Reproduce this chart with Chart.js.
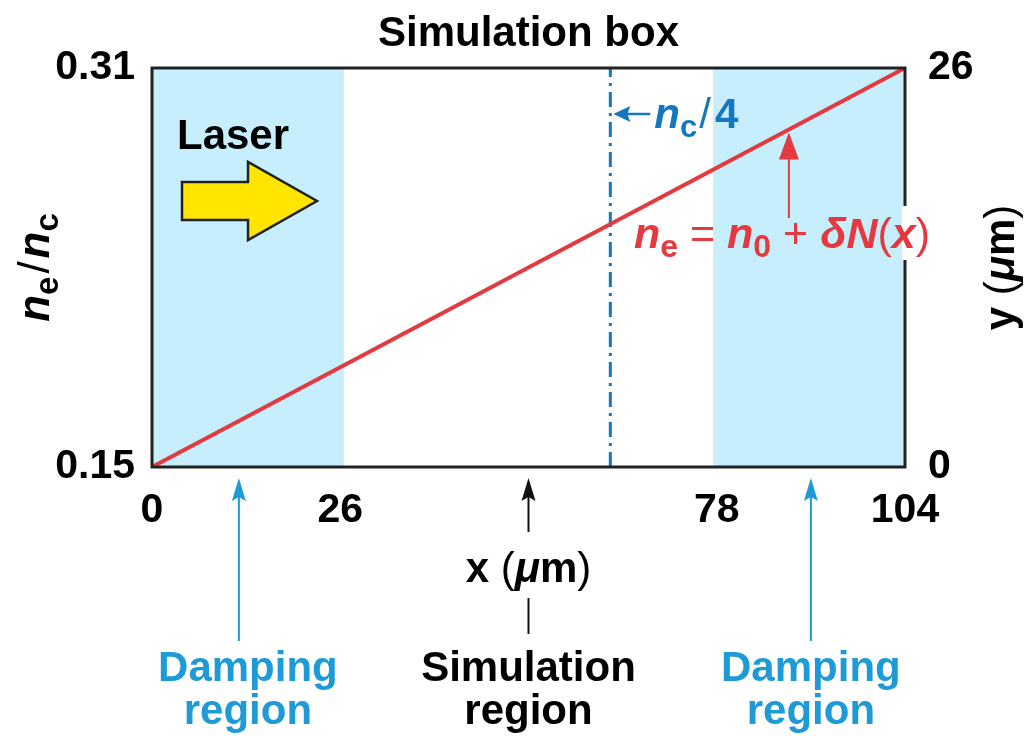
<!DOCTYPE html>
<html>
<head>
<meta charset="utf-8">
<script src="https://cdn.jsdelivr.net/npm/chart.js@4/dist/chart.umd.min.js"></script>
<style>
  html, body { margin: 0; padding: 0; background: #fff; }
  #wrap { width: 1029px; height: 736px; position: relative; }
</style>
</head>
<body>
<div id="wrap"><canvas id="simBox"></canvas></div>
<script>
// datos
const xTicks = [0, 26, 78, 104];
const leftTicks = [0.15, 0.31];
const rightTicks = [0, 26];
const densityX = [0, 104];
const densityY = [0.15, 0.31];
const quarterCritX = [63.3, 63.3];
const quarterCritY = [0.15, 0.31];
const dampingLeft = [0, 26.5];
const dampingRight = [77.5, 104];
const pointerX = [12, 52, 91];

const FONT = '"Liberation Sans", Arial, Helvetica, sans-serif';
const RED = '#e23a3f';
const BLUE = '#1577bd';
const CYAN = '#1e9bd7';
const SHADE = '#c7eefc';

// dibuja texto con varios estilos (cursiva, subindices)
function runsWidth(ctx, runs) {
  let w = 0;
  runs.forEach(r => { ctx.font = r.f; w += ctx.measureText(r.t).width + (r.gap || 0); });
  return w;
}
function drawRuns(ctx, runs, x, y, align) {
  let cx = x;
  const w = runsWidth(ctx, runs);
  if (align === 'center') cx = x - w / 2;
  if (align === 'right') cx = x - w;
  ctx.textBaseline = 'alphabetic';
  ctx.textAlign = 'left';
  runs.forEach(r => {
    ctx.font = r.f;
    ctx.fillText(r.t, cx, y + (r.dy || 0));
    cx += ctx.measureText(r.t).width + (r.gap || 0);
  });
}
const bi = s => `italic bold ${s}px ${FONT}`;
const b = s => `bold ${s}px ${FONT}`;
const n = s => `${s}px ${FONT}`;

function arrowUp(ctx, x, yTip, yTail, color) {
  ctx.strokeStyle = color; ctx.fillStyle = color; ctx.lineWidth = 2;
  ctx.beginPath(); ctx.moveTo(x, yTail); ctx.lineTo(x, yTip + 18); ctx.stroke();
  ctx.beginPath(); ctx.moveTo(x, yTip); ctx.lineTo(x - 7, yTip + 23); ctx.lineTo(x, yTip + 19);
  ctx.lineTo(x + 7, yTip + 23); ctx.closePath(); ctx.fill();
}

const shadePlugin = {
  id: 'shade',
  beforeDatasetsDraw(chart) {
    const { ctx, chartArea: a, scales: { x } } = chart;
    ctx.save();
    ctx.fillStyle = SHADE;
    [dampingLeft, dampingRight].forEach(r => {
      const x0 = x.getPixelForValue(r[0]), x1 = x.getPixelForValue(r[1]);
      ctx.fillRect(x0, a.top, x1 - x0, a.bottom - a.top);
    });
    ctx.restore();
  }
};

const notesPlugin = {
  id: 'notes',
  afterDraw(chart) {
    const { ctx, chartArea: a, scales: { x, y } } = chart;
    ctx.save();

    // marco
    ctx.strokeStyle = '#222'; ctx.lineWidth = 3;
    ctx.strokeRect(a.left, a.top, a.right - a.left, a.bottom - a.top);

    // titulo
    ctx.fillStyle = '#000';
    drawRuns(ctx, [{ t: 'Simulation box', f: b(42) }], (a.left + a.right) / 2, 46, 'center');

    // Laser + flecha amarilla
    drawRuns(ctx, [{ t: 'Laser', f: b(42) }], a.left + 25, 149, 'left');
    const ax = a.left + 30, ay = a.top + 133;
    ctx.beginPath();
    ctx.moveTo(ax, ay - 19); ctx.lineTo(ax + 66, ay - 19); ctx.lineTo(ax + 66, ay - 39);
    ctx.lineTo(ax + 135, ay); ctx.lineTo(ax + 66, ay + 39); ctx.lineTo(ax + 66, ay + 19);
    ctx.lineTo(ax, ay + 19); ctx.closePath();
    ctx.fillStyle = '#ffe500'; ctx.fill();
    ctx.strokeStyle = '#222'; ctx.lineWidth = 2.5; ctx.stroke();

    // etiqueta n_c/4
    const qx = x.getPixelForValue(quarterCritX[0]);
    ctx.strokeStyle = BLUE; ctx.fillStyle = BLUE; ctx.lineWidth = 2.5;
    ctx.beginPath(); ctx.moveTo(qx + 40, 114); ctx.lineTo(qx + 14, 114); ctx.stroke();
    ctx.beginPath(); ctx.moveTo(qx + 3, 114); ctx.lineTo(qx + 20, 106); ctx.lineTo(qx + 17, 114);
    ctx.lineTo(qx + 20, 122); ctx.closePath(); ctx.fill();
    drawRuns(ctx, [
      { t: 'n', f: bi(42) },
      { t: 'c', f: b(31), dy: 9, gap: 2 },
      { t: '/', f: n(42), gap: 4 },
      { t: '4', f: b(42) }
    ], qx + 44, 128, 'left');

    // formula roja
    const rx = x.getPixelForValue(pointerX[2]) - 22;
    ctx.strokeStyle = RED; ctx.fillStyle = RED; ctx.lineWidth = 2;
    const tipY = y.getPixelForValue(densityY[0] + (densityY[1] - densityY[0]) * ((pointerX[2] - 3) / 104)) + 3;
    ctx.beginPath(); ctx.moveTo(rx, 218); ctx.lineTo(rx, tipY + 18); ctx.stroke();
    ctx.beginPath(); ctx.moveTo(rx, tipY); ctx.lineTo(rx - 10, tipY + 27); ctx.lineTo(rx + 10, tipY + 27);
    ctx.closePath(); ctx.fill();
    ctx.fillStyle = '#fff';
    ctx.fillRect(a.right - 3, 206, 6, 54);
    ctx.fillStyle = RED;
    drawRuns(ctx, [
      { t: 'n', f: bi(43) },
      { t: 'e', f: b(32), dy: 9 },
      { t: ' = ', f: n(43) },
      { t: 'n', f: bi(43) },
      { t: '0', f: b(32), dy: 9 },
      { t: ' + ', f: n(43) },
      { t: '\u03B4', f: bi(43) },
      { t: 'N', f: bi(43) },
      { t: '(', f: n(43) },
      { t: 'x', f: bi(43) },
      { t: ')', f: n(43) }
    ], 634, 248, 'left');

    // titulo eje izquierdo
    ctx.fillStyle = '#000';
    ctx.save();
    ctx.translate(49, (a.top + a.bottom) / 2);
    ctx.rotate(-Math.PI / 2);
    drawRuns(ctx, [
      { t: 'n', f: bi(44) },
      { t: 'e', f: b(33), dy: 9, gap: 3 },
      { t: '/', f: n(44), gap: 3 },
      { t: 'n', f: bi(44) },
      { t: 'c', f: b(33), dy: 9 }
    ], 0, 0, 'center');
    ctx.restore();

    // titulo eje derecho
    ctx.save();
    ctx.translate(1014, (a.top + a.bottom) / 2);
    ctx.rotate(-Math.PI / 2);
    drawRuns(ctx, [
      { t: 'y', f: b(42) },
      { t: ' (', f: n(42) },
      { t: '\u03BC', f: bi(42) },
      { t: 'm', f: b(42) },
      { t: ')', f: n(42) }
    ], 0, 0, 'center');
    ctx.restore();

    // titulo eje x
    drawRuns(ctx, [
      { t: 'x', f: b(42) },
      { t: ' (', f: n(42) },
      { t: '\u03BC', f: bi(42) },
      { t: 'm', f: b(42) },
      { t: ')', f: n(42) }
    ], x.getPixelForValue(pointerX[1]), 582, 'center');

    // flechas inferiores
    const tip = a.bottom + 11;
    arrowUp(ctx, x.getPixelForValue(pointerX[0]), tip, 641, CYAN);
    arrowUp(ctx, x.getPixelForValue(pointerX[2]), tip, 641, CYAN);
    const sx = x.getPixelForValue(pointerX[1]);
    arrowUp(ctx, sx, tip, 532, '#111');
    ctx.beginPath(); ctx.moveTo(sx, 598); ctx.lineTo(sx, 634); ctx.stroke();

    // etiquetas inferiores
    ctx.fillStyle = CYAN;
    drawRuns(ctx, [{ t: 'Damping', f: b(42) }], x.getPixelForValue(pointerX[0]) + 9, 681, 'center');
    drawRuns(ctx, [{ t: 'region', f: b(42) }], x.getPixelForValue(pointerX[0]) + 9, 724, 'center');
    drawRuns(ctx, [{ t: 'Damping', f: b(42) }], x.getPixelForValue(pointerX[2]), 681, 'center');
    drawRuns(ctx, [{ t: 'region', f: b(42) }], x.getPixelForValue(pointerX[2]), 724, 'center');
    ctx.fillStyle = '#000';
    drawRuns(ctx, [{ t: 'Simulation', f: b(42) }], sx, 681, 'center');
    drawRuns(ctx, [{ t: 'region', f: b(42) }], sx, 724, 'center');

    ctx.restore();
  }
};

function initChart() {
  const ctx = document.getElementById('simBox').getContext('2d');
  new Chart(ctx, {
    type: 'scatter',
    data: {
      datasets: [
        {
          label: 'n_e',
          data: densityX.map((v, i) => ({ x: v, y: densityY[i] })),
          showLine: true,
          borderColor: RED,
          borderWidth: 4,
          pointRadius: 0,
          yAxisID: 'y'
        },
        {
          label: 'n_c/4',
          data: quarterCritX.map((v, i) => ({ x: v, y: quarterCritY[i] })),
          showLine: true,
          borderColor: BLUE,
          borderWidth: 3,
          borderDash: [15, 6, 3, 6],
          pointRadius: 0,
          yAxisID: 'y'
        }
      ]
    },
    options: {
      responsive: true,
      maintainAspectRatio: false,
      animation: false,
      layout: { padding: { top: 68, left: 0, right: 0, bottom: 0 } },
      plugins: { legend: { display: false }, tooltip: { enabled: false } },
      scales: {
        x: {
          type: 'linear', min: 0, max: 104,
          afterBuildTicks: s => { s.ticks = xTicks.map(v => ({ value: v })); },
          afterFit: s => { s.height = 269; },
          grid: { display: false, drawTicks: false },
          border: { display: false },
          ticks: { padding: 19, color: '#000', font: { family: FONT, size: 41, weight: 'bold' } }
        },
        y: {
          type: 'linear', position: 'left', min: 0.15, max: 0.31,
          afterBuildTicks: s => { s.ticks = leftTicks.map(v => ({ value: v })); },
          afterFit: s => { s.width = 152; },
          grid: { display: false, drawTicks: false },
          border: { display: false },
          ticks: { padding: 17, color: '#000', font: { family: FONT, size: 41, weight: 'bold' },
                   callback: v => v.toFixed(2) }
        },
        y2: {
          type: 'linear', position: 'right', min: 0, max: 26,
          afterBuildTicks: s => { s.ticks = rightTicks.map(v => ({ value: v })); },
          afterFit: s => { s.width = 124; },
          grid: { display: false, drawTicks: false },
          border: { display: false },
          ticks: { padding: 23, color: '#000', font: { family: FONT, size: 41, weight: 'bold' } }
        }
      }
    },
    plugins: [shadePlugin, notesPlugin]
  });
}

document.addEventListener('DOMContentLoaded', initChart);
</script>
</body>
</html>
